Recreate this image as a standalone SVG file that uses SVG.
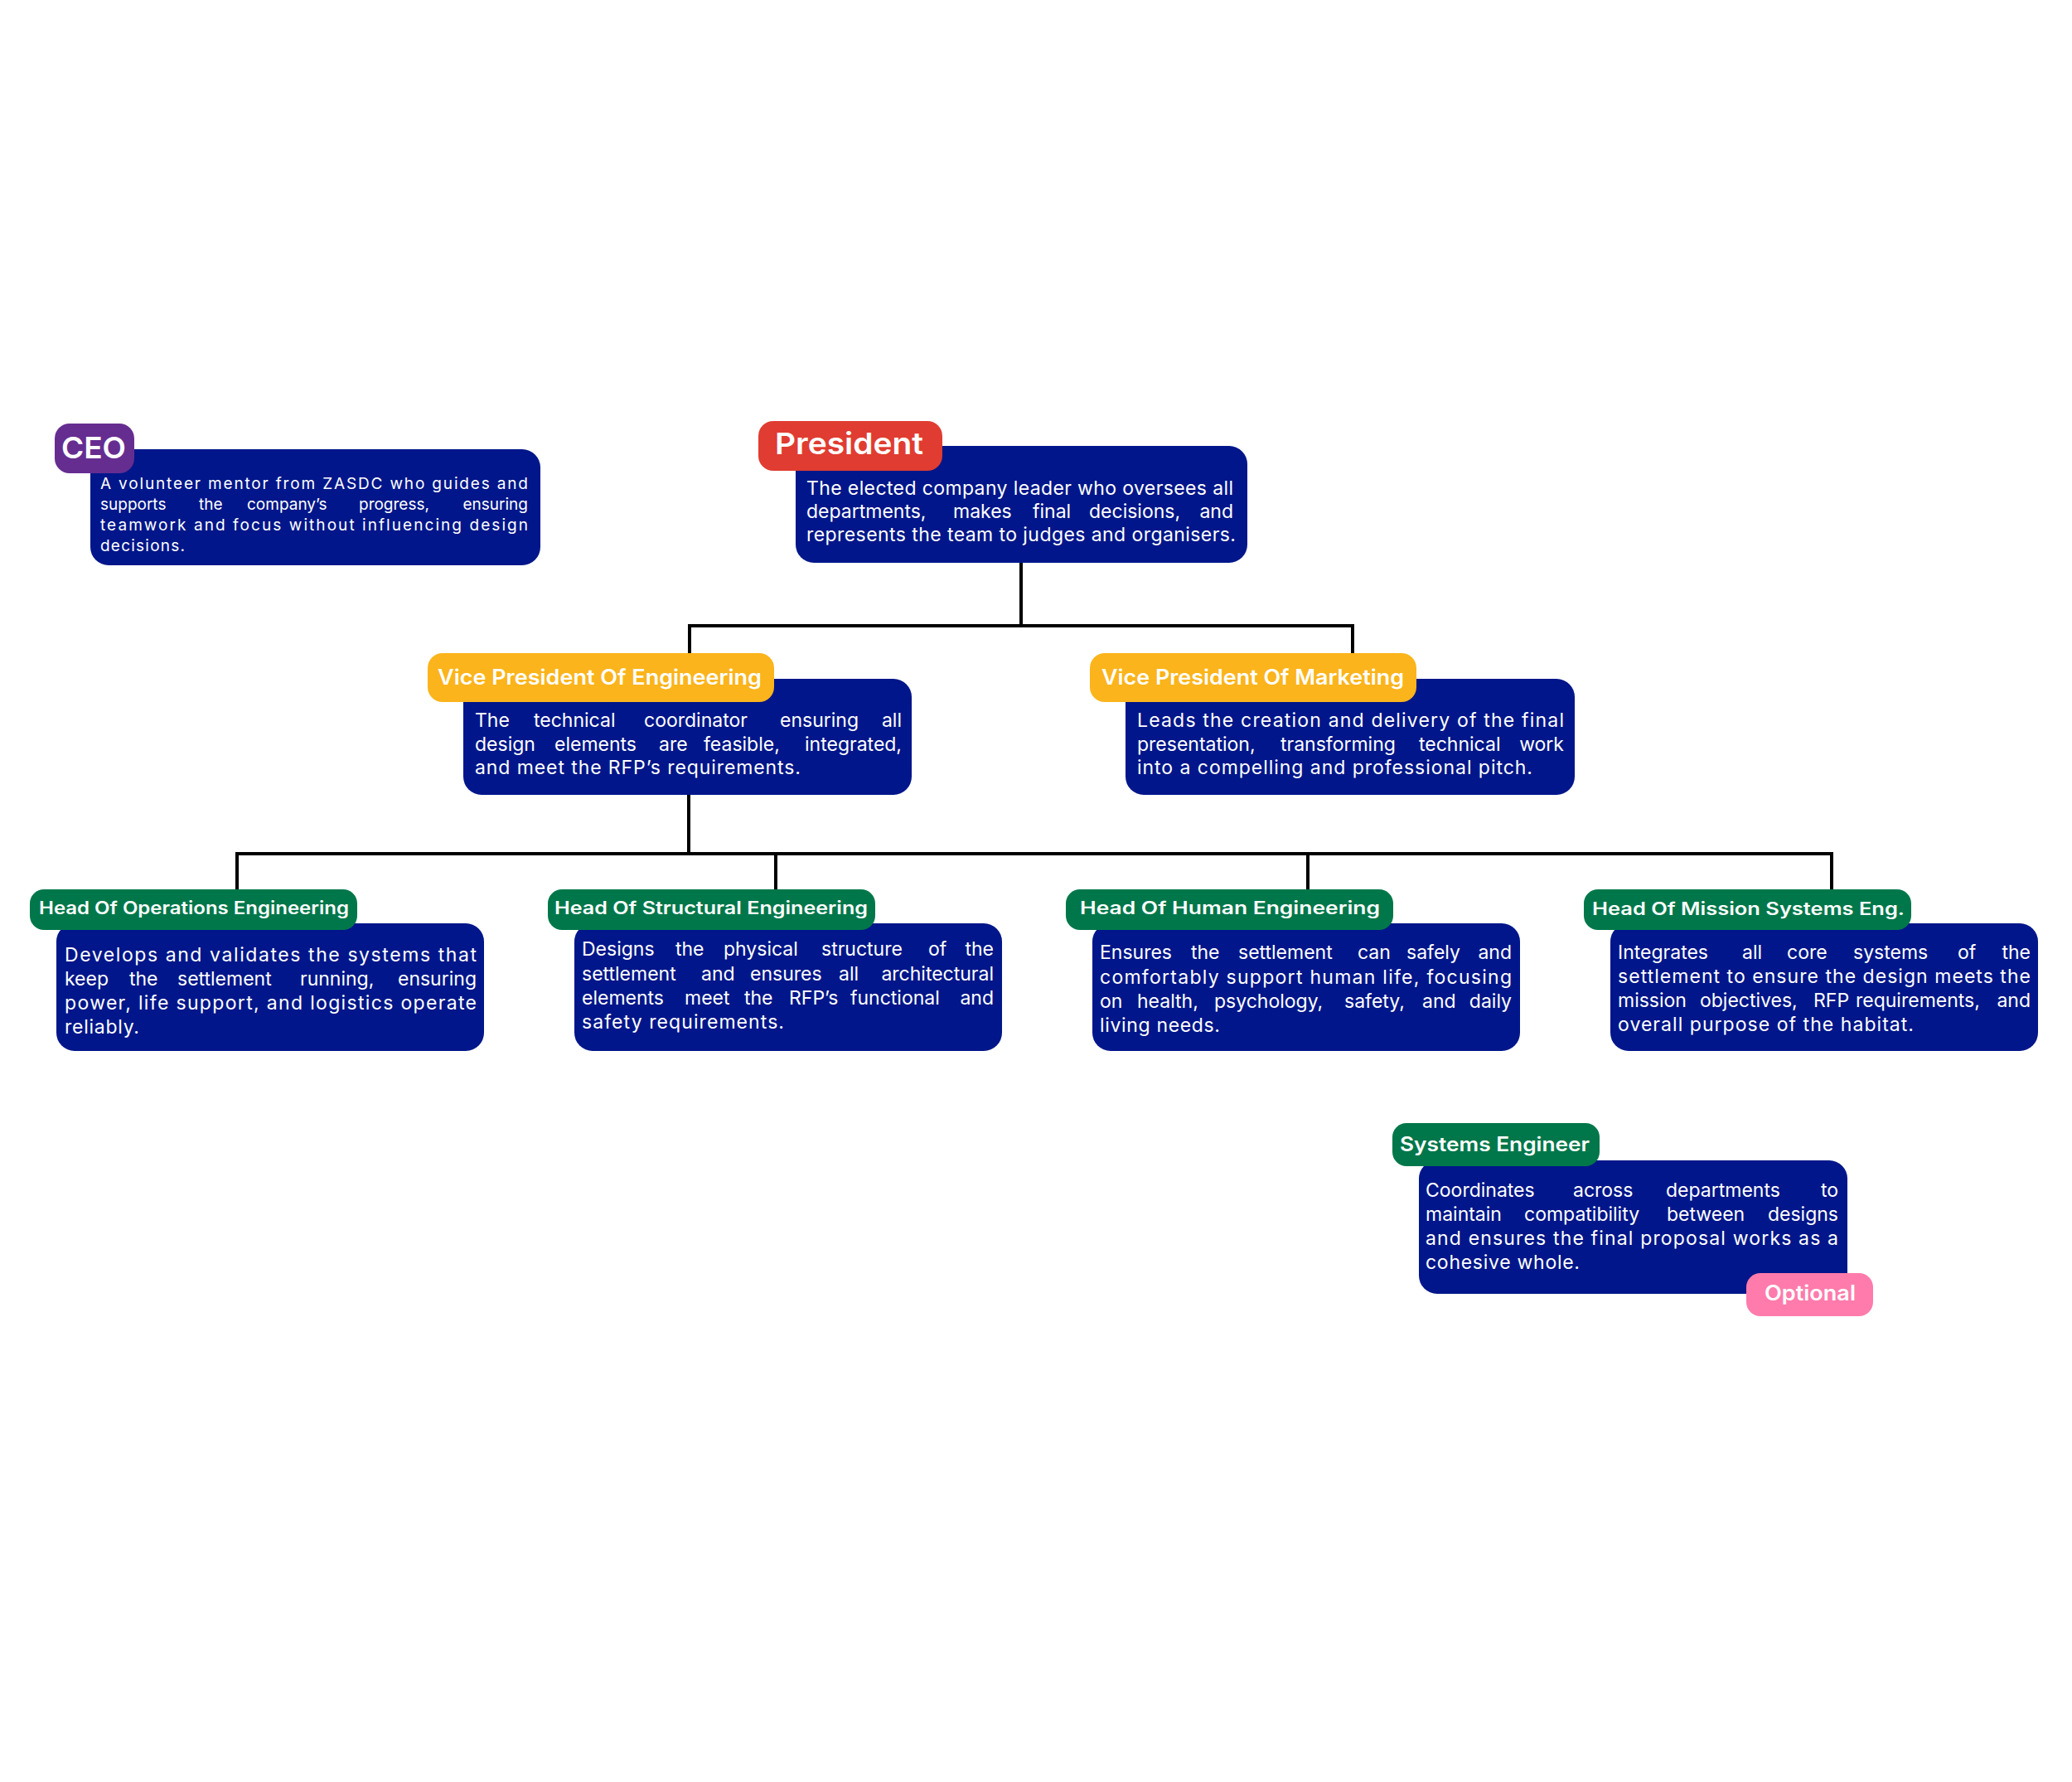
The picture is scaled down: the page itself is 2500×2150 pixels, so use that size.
<svg xmlns="http://www.w3.org/2000/svg" width="2500" height="2150" viewBox="0 0 2500 2150">
<style>
.body{fill:#00168A}
.lbl{font-family:Inter,"Open Sans","Liberation Sans",sans-serif;font-weight:600;fill:#fff}
.txt{font-family:Inter,"Noto Sans","Liberation Sans",sans-serif;font-size:23px;fill:#fff}
.small{font-size:19px}
.end{text-anchor:end}
.conn{fill:none;stroke:#000;stroke-width:4}
</style>
<rect width="2500" height="2150" fill="#fff"/>
<g id="connectors">
<path class="conn" d="M1232,679 V755 M832,755 H1632 M832,753 V788 M1632,753 V788"/>
<path class="conn" d="M831,959 V1030 M286,1030 H2210 M286,1028 V1073 M936,1030 V1073 M1578,1030 V1073 M2210,1028 V1073"/>
</g>
<g id="ceo">
<rect class="body" x="109" y="542" width="543" height="140" rx="22"/>
<rect x="66" y="511" width="96" height="60" rx="18" fill="#662D91"/>
<text class="lbl" x="74" y="553" font-size="36" font-weight="700" textLength="78" lengthAdjust="spacingAndGlyphs">CEO</text>
<text class="txt small" x="121" y="590" textLength="516" lengthAdjust="spacing">A volunteer mentor from ZASDC who guides and</text>
<text class="txt small" y="615"><tspan x="121">supports</tspan><tspan x="240">the</tspan><tspan x="298">company’s</tspan><tspan x="433">progress,</tspan></text>
<text class="txt small end" x="637" y="615">ensuring</text>
<text class="txt small" x="121" y="640" textLength="516" lengthAdjust="spacing">teamwork and focus without influencing design</text>
<text class="txt small" x="121" y="665" textLength="102" lengthAdjust="spacing">decisions.</text>
</g>
<g id="president">
<rect class="body" x="960" y="538" width="545" height="141" rx="22"/>
<rect x="915" y="508" width="222" height="60" rx="18" fill="#E03C31"/>
<text class="lbl" x="935" y="548" font-size="36" textLength="179" lengthAdjust="spacingAndGlyphs">President</text>
<text class="txt" x="973" y="597" textLength="515" lengthAdjust="spacing">The elected company leader who oversees all</text>
<text class="txt" y="625"><tspan x="973">departments,</tspan><tspan x="1150">makes</tspan><tspan x="1246">final</tspan><tspan x="1314">decisions,</tspan></text>
<text class="txt end" x="1488" y="625">and</text>
<text class="txt" x="973" y="653" textLength="518" lengthAdjust="spacing">represents the team to judges and organisers.</text>
</g>
<g id="vp-engineering">
<rect class="body" x="559" y="819" width="541" height="140" rx="22"/>
<rect x="516" y="788" width="418" height="59" rx="18" fill="#FBB41B"/>
<text class="lbl" x="528" y="826" font-size="25" textLength="391" lengthAdjust="spacingAndGlyphs">Vice President Of Engineering</text>
<text class="txt" y="877"><tspan x="573">The</tspan><tspan x="644">technical</tspan><tspan x="777">coordinator</tspan><tspan x="941">ensuring</tspan></text>
<text class="txt end" x="1088" y="877">all</text>
<text class="txt" y="906"><tspan x="573">design</tspan><tspan x="669">elements</tspan><tspan x="795">are</tspan><tspan x="849">feasible,</tspan></text>
<text class="txt end" x="1088" y="906">integrated,</text>
<text class="txt" x="573" y="934" textLength="393" lengthAdjust="spacing">and meet the RFP’s requirements.</text>
</g>
<g id="vp-marketing">
<rect class="body" x="1358" y="819" width="542" height="140" rx="22"/>
<rect x="1315" y="788" width="394" height="59" rx="18" fill="#FBB41B"/>
<text class="lbl" x="1329" y="826" font-size="25" textLength="365" lengthAdjust="spacingAndGlyphs">Vice President Of Marketing</text>
<text class="txt" x="1372" y="877" textLength="515" lengthAdjust="spacing">Leads the creation and delivery of the final</text>
<text class="txt" y="906"><tspan x="1372">presentation,</tspan><tspan x="1545">transforming</tspan><tspan x="1712">technical</tspan></text>
<text class="txt end" x="1887" y="906">work</text>
<text class="txt" x="1372" y="934" textLength="477" lengthAdjust="spacing">into a compelling and professional pitch.</text>
</g>
<g id="head-operations">
<rect class="body" x="68" y="1114" width="516" height="154" rx="22"/>
<rect x="36" y="1073" width="395" height="49" rx="17" fill="#00774A"/>
<text class="lbl" x="47" y="1103" font-size="21" textLength="374" lengthAdjust="spacingAndGlyphs">Head Of Operations Engineering</text>
<text class="txt" x="78" y="1160" textLength="497" lengthAdjust="spacing">Develops and validates the systems that</text>
<text class="txt" y="1189"><tspan x="78">keep</tspan><tspan x="156">the</tspan><tspan x="214">settlement</tspan><tspan x="362">running,</tspan></text>
<text class="txt end" x="575" y="1189">ensuring</text>
<text class="txt" x="78" y="1218" textLength="497" lengthAdjust="spacing">power, life support, and logistics operate</text>
<text class="txt" x="78" y="1247" textLength="90" lengthAdjust="spacing">reliably.</text>
</g>
<g id="head-structural">
<rect class="body" x="693" y="1114" width="516" height="154" rx="22"/>
<rect x="661" y="1073" width="395" height="49" rx="17" fill="#00774A"/>
<text class="lbl" x="669" y="1103" font-size="21" textLength="378" lengthAdjust="spacingAndGlyphs">Head Of Structural Engineering</text>
<text class="txt" y="1153"><tspan x="702">Designs</tspan><tspan x="815">the</tspan><tspan x="873">physical</tspan><tspan x="991">structure</tspan><tspan x="1120">of</tspan></text>
<text class="txt end" x="1199" y="1153">the</text>
<text class="txt" y="1183"><tspan x="702">settlement</tspan><tspan x="846">and</tspan><tspan x="905">ensures</tspan><tspan x="1012">all</tspan></text>
<text class="txt end" x="1199" y="1183">architectural</text>
<text class="txt" y="1212"><tspan x="702">elements</tspan><tspan x="826">meet</tspan><tspan x="898">the</tspan><tspan x="952">RFP’s</tspan><tspan x="1026">functional</tspan></text>
<text class="txt end" x="1199" y="1212">and</text>
<text class="txt" x="702" y="1241" textLength="244" lengthAdjust="spacing">safety requirements.</text>
</g>
<g id="head-human">
<rect class="body" x="1318" y="1114" width="516" height="154" rx="22"/>
<rect x="1286" y="1073" width="395" height="49" rx="17" fill="#00774A"/>
<text class="lbl" x="1303" y="1103" font-size="21" textLength="362" lengthAdjust="spacingAndGlyphs">Head Of Human Engineering</text>
<text class="txt" y="1157"><tspan x="1327">Ensures</tspan><tspan x="1437">the</tspan><tspan x="1494">settlement</tspan><tspan x="1638">can</tspan><tspan x="1697">safely</tspan></text>
<text class="txt end" x="1824" y="1157">and</text>
<text class="txt" x="1327" y="1187" textLength="497" lengthAdjust="spacing">comfortably support human life, focusing</text>
<text class="txt" y="1216"><tspan x="1327">on</tspan><tspan x="1372">health,</tspan><tspan x="1465">psychology,</tspan><tspan x="1622">safety,</tspan><tspan x="1716">and</tspan></text>
<text class="txt end" x="1824" y="1216">daily</text>
<text class="txt" x="1327" y="1245" textLength="145" lengthAdjust="spacing">living needs.</text>
</g>
<g id="head-mission">
<rect class="body" x="1943" y="1114" width="516" height="154" rx="22"/>
<rect x="1911" y="1073" width="395" height="49" rx="17" fill="#00774A"/>
<text class="lbl" x="1921" y="1104" font-size="21" textLength="377" lengthAdjust="spacingAndGlyphs">Head Of Mission Systems Eng.</text>
<text class="txt" y="1157"><tspan x="1952">Integrates</tspan><tspan x="2102">all</tspan><tspan x="2156">core</tspan><tspan x="2236">systems</tspan><tspan x="2362">of</tspan></text>
<text class="txt end" x="2450" y="1157">the</text>
<text class="txt" x="1952" y="1186" textLength="498" lengthAdjust="spacing">settlement to ensure the design meets the</text>
<text class="txt" y="1215"><tspan x="1952">mission</tspan><tspan x="2051">objectives,</tspan><tspan x="2188">RFP</tspan><tspan x="2239">requirements,</tspan></text>
<text class="txt end" x="2450" y="1215">and</text>
<text class="txt" x="1952" y="1244" textLength="357" lengthAdjust="spacing">overall purpose of the habitat.</text>
</g>
<g id="systems-engineer">
<rect class="body" x="1712" y="1400" width="517" height="161" rx="22"/>
<rect x="1680" y="1355" width="250" height="52" rx="17" fill="#00774A"/>
<text class="lbl" x="1689" y="1389" font-size="24" textLength="229" lengthAdjust="spacingAndGlyphs">Systems Engineer</text>
<text class="txt" y="1444"><tspan x="1720">Coordinates</tspan><tspan x="1898">across</tspan><tspan x="2010">departments</tspan></text>
<text class="txt end" x="2218" y="1444">to</text>
<text class="txt" y="1473"><tspan x="1720">maintain</tspan><tspan x="1839">compatibility</tspan><tspan x="2011">between</tspan></text>
<text class="txt end" x="2218" y="1473">designs</text>
<text class="txt" x="1720" y="1502" textLength="498" lengthAdjust="spacing">and ensures the final proposal works as a</text>
<text class="txt" x="1720" y="1531" textLength="186" lengthAdjust="spacing">cohesive whole.</text>
<rect x="2107" y="1536" width="153" height="52" rx="17" fill="#FF7BAC"/>
<text class="lbl" x="2129" y="1569" font-size="25" textLength="110" lengthAdjust="spacingAndGlyphs">Optional</text>
</g>
</svg>
